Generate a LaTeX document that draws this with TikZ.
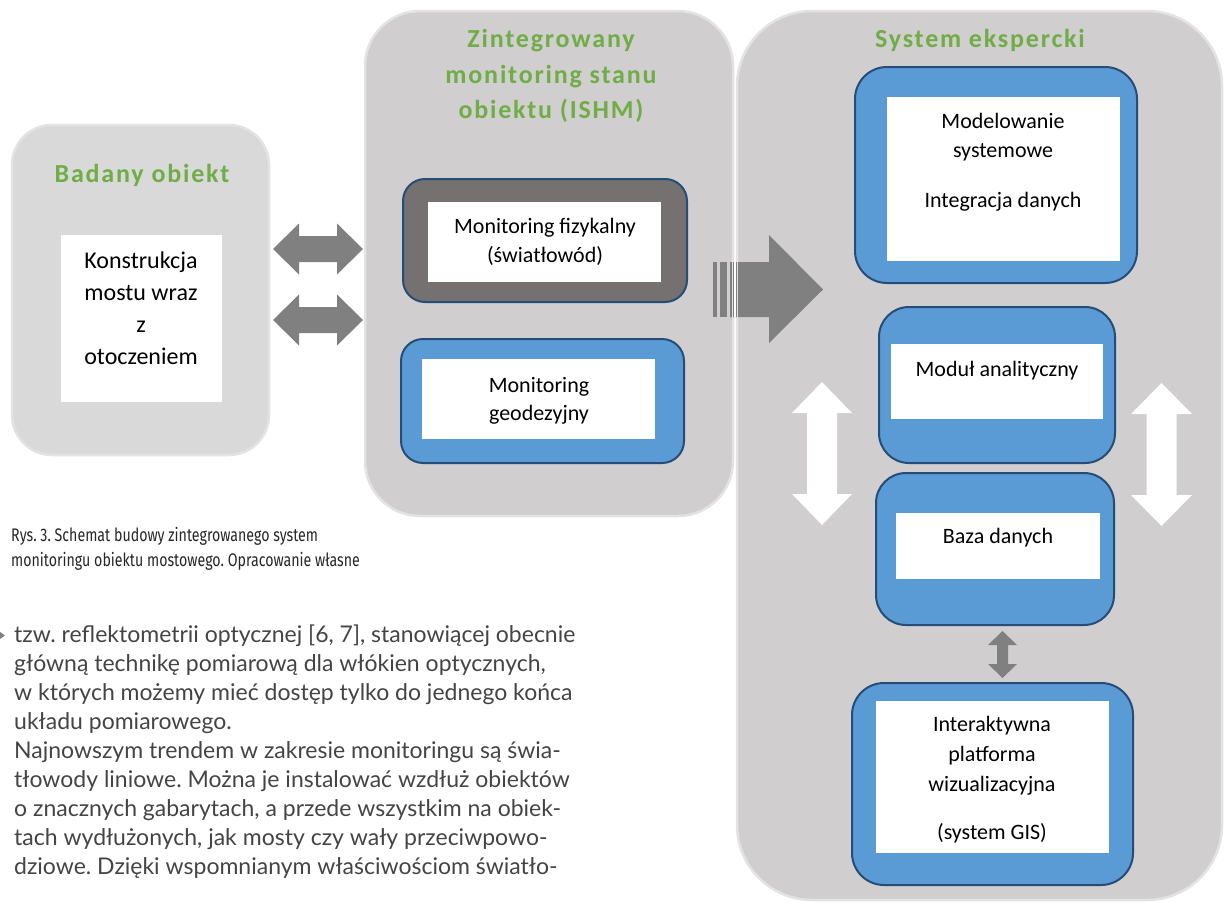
\documentclass[tikz,border=0pt]{standalone}
\usepackage{fontspec}
\setmainfont{Carlito}
\newfontfamily\titlef[LetterSpace=7]{Carlito}
\newfontfamily\capf[FakeStretch=0.78]{Fira Sans}
\newfontfamily\bodyf{Lato}
\frenchspacing
\definecolor{panelA}{HTML}{D9D9D9}
\definecolor{panelB}{HTML}{D0CECE}
\definecolor{panelEdge}{HTML}{E4E3E3}
\definecolor{titleGreen}{HTML}{70AD47}
\definecolor{boxBlue}{HTML}{5B9BD5}
\definecolor{boxEdge}{HTML}{264D78}
\definecolor{boxDark}{HTML}{767171}
\definecolor{arrGray}{HTML}{808080}
\definecolor{bodyText}{HTML}{444444}
\newcommand\boxnode[6]{% style, name, x1, y1, x2, y2
  \node[#1, minimum width={((#5)-(#3))*1pt}, minimum height={((#6)-(#4))*1pt}]
    (#2) at ({((#3)+(#5))/2},{((#4)+(#6))/2}) {};}
% horizontal double block arrow: colour, x1, x2, cy, head half, shaft half, head length
\newcommand\hdarrow[7]{%
  \fill[#1] (#2,#4) -- ({#2+#7},{#4-#5}) -- ({#2+#7},{#4-#6}) -- ({#3-#7},{#4-#6})
    -- ({#3-#7},{#4-#5}) -- (#3,#4) -- ({#3-#7},{#4+#5}) -- ({#3-#7},{#4+#6})
    -- ({#2+#7},{#4+#6}) -- ({#2+#7},{#4+#5}) -- cycle;}
% vertical double block arrow: colour, cx, y1, y2, head half, shaft half, head length
\newcommand\vdarrow[7]{%
  \fill[#1] (#2,#3) -- ({#2+#5},{#3+#7}) -- ({#2+#6},{#3+#7}) -- ({#2+#6},{#4-#7})
    -- ({#2+#5},{#4-#7}) -- (#2,#4) -- ({#2-#5},{#4-#7}) -- ({#2-#6},{#4-#7})
    -- ({#2-#6},{#3+#7}) -- ({#2-#5},{#3+#7}) -- cycle;}
\tikzset{
  panel/.style={draw=panelEdge, line width=2.5pt, inner sep=0pt},
  bluebox/.style={draw=boxEdge, fill=boxBlue, line width=2pt, inner sep=0pt},
  darkbox/.style={draw=boxEdge, fill=boxDark, line width=2pt, inner sep=0pt, rounded corners=22pt},
  whitebox/.style={fill=white, draw=none, inner sep=0pt},
  ttl/.style={anchor=base, text=titleGreen, font=\titlef\bfseries\fontsize{26}{30}\selectfont},
  lbl/.style={anchor=base, text=black, font=\fontsize{22}{26}\selectfont},
  lblbig/.style={anchor=base, text=black, font=\fontsize{24}{28}\selectfont},
  bodyline/.style={anchor=base west, inner sep=0pt, text=bodyText, font=\bodyf\fontsize{23}{29}\selectfont},
  capline/.style={anchor=base west, inner sep=0pt, text=black!85, font=\capf\fontsize{18.2}{24}\selectfont},
}
\begin{document}
\begin{tikzpicture}[x=1pt, y=-1pt]
\useasboundingbox (0,0) rectangle (1225,902);
% panels
\boxnode{panel, fill=panelA, rounded corners=40pt}{badany}{12}{125}{269}{455}
\boxnode{panel, fill=panelB, rounded corners=55pt}{ishm}{365}{11}{733}{516}
\begin{scope}
\clip (0,0) rectangle (1225,902);
\boxnode{panel, fill=panelB, rounded corners=75pt}{sys}{737}{11}{1222}{900}
\end{scope}
% titles
\node[ttl] (t1) at (142,182) {Badany obiekt};
\node[ttl] (t2a) at (551,47) {Zintegrowany};
\node[ttl] (t2b) at (551,83) {monitoring stanu};
\node[ttl] (t2c) at (551,118) {obiektu (ISHM)};
\node[ttl] (t3) at (980,47) {System ekspercki};
% Badany obiekt
\boxnode{whitebox}{kons}{61}{235}{222}{402}
\node[lblbig] (k1) at (141,268) {Konstrukcja};
\node[lblbig] (k2) at (141,300) {mostu wraz};
\node[lblbig] (k3) at (141,332) {z};
\node[lblbig] (k4) at (141,364) {otoczeniem};
% ISHM
\boxnode{darkbox}{fiz}{403}{179}{687}{302}
\boxnode{whitebox}{fizw}{428}{202}{661}{282}
\node[lbl] (f1) at (545,233) {Monitoring fizykalny};
\node[lbl] (f2) at (545,262) {(światłowód)};
\boxnode{bluebox, rounded corners=22pt}{geo}{401}{339}{684}{463}
\boxnode{whitebox}{geow}{422}{359}{655}{439}
\node[lbl] (g1) at (539,392) {Monitoring};
\node[lbl] (g2) at (539,420) {geodezyjny};
% System ekspercki
\boxnode{bluebox, rounded corners=32pt}{model}{855}{67}{1137}{283}
\boxnode{whitebox}{modelw}{887}{97}{1120}{261}
\node[lbl] (m1) at (1003,128) {Modelowanie};
\node[lbl] (m2) at (1003,157) {systemowe};
\node[lbl] (m3) at (1003,207) {Integracja danych};
\boxnode{bluebox, rounded corners=30pt}{modul}{879}{307}{1115}{463}
\boxnode{whitebox}{modulw}{891}{344}{1103}{419}
\node[lbl] (a1) at (997,376) {Moduł analityczny};
\boxnode{bluebox, rounded corners=30pt}{baza}{876}{473}{1114}{625}
\boxnode{whitebox}{bazaw}{896}{513}{1100}{579}
\node[lbl] (b1) at (998,543) {Baza danych};
\boxnode{bluebox, rounded corners=32pt}{inter}{852}{683}{1133}{885}
\boxnode{whitebox}{interw}{876}{701}{1109}{853}
\node[lbl] (i1) at (992,731) {Interaktywna};
\node[lbl] (i2) at (992,761) {platforma};
\node[lbl] (i3) at (992,791) {wizualizacyjna};
\node[lbl] (i4) at (992,839) {(system GIS)};
% block arrows
\hdarrow{arrGray}{273}{363}{249}{25.5}{13}{26}
\hdarrow{arrGray}{273}{363}{320}{25.5}{13}{26}
\fill[arrGray] (713,262) rectangle (717,317);
\fill[arrGray] (720,262) rectangle (727,317);
\fill[arrGray] (730,262) -- (769,262) -- (769,235) -- (823,289.5) -- (769,343) -- (769,317) -- (730,317) -- cycle;
\draw[white, line width=2pt] (735,262) -- (735,317);
\draw[panelEdge, line width=1.5pt] (732.5,262) -- (732.5,317);
\draw[panelEdge, line width=1.5pt] (737.5,262) -- (737.5,317);
\vdarrow{white}{822}{382}{525}{30}{15}{31}
\vdarrow{white}{1161.5}{383}{526}{30.5}{15}{31}
\vdarrow{arrGray}{1002.5}{631}{678}{14.5}{5.5}{14}
% caption
\node[capline] (c1) at (11,541) {Rys. 3. Schemat budowy zintegrowanego system};
\node[capline] (c2) at (11,566) {monitoringu obiektu mostowego. Opracowanie własne};
% body text
\fill[arrGray] (0,632) -- (5,635.5) -- (0,639) -- cycle;
\node[bodyline] (l1) at (14,642) {tzw. reflektometrii optycznej [6, 7], stanowiącej obecnie};
\node[bodyline] (l2) at (14,671) {główną technikę pomiarową dla włókien optycznych,};
\node[bodyline] (l3) at (14,700) {w których możemy mieć dostęp tylko do jednego końca};
\node[bodyline] (l4) at (14,729) {układu pomiarowego.};
\node[bodyline] (l5) at (14,758) {Najnowszym trendem w zakresie monitoringu są świa-};
\node[bodyline] (l6) at (14,787) {tłowody liniowe. Można je instalować wzdłuż obiektów};
\node[bodyline] (l7) at (14,816) {o znacznych gabarytach, a przede wszystkim na obiek-};
\node[bodyline] (l8) at (14,845) {tach wydłużonych, jak mosty czy wały przeciwpowo-};
\node[bodyline] (l9) at (14,874) {dziowe. Dzięki wspomnianym właściwościom światło-};
\end{tikzpicture}
\end{document}
